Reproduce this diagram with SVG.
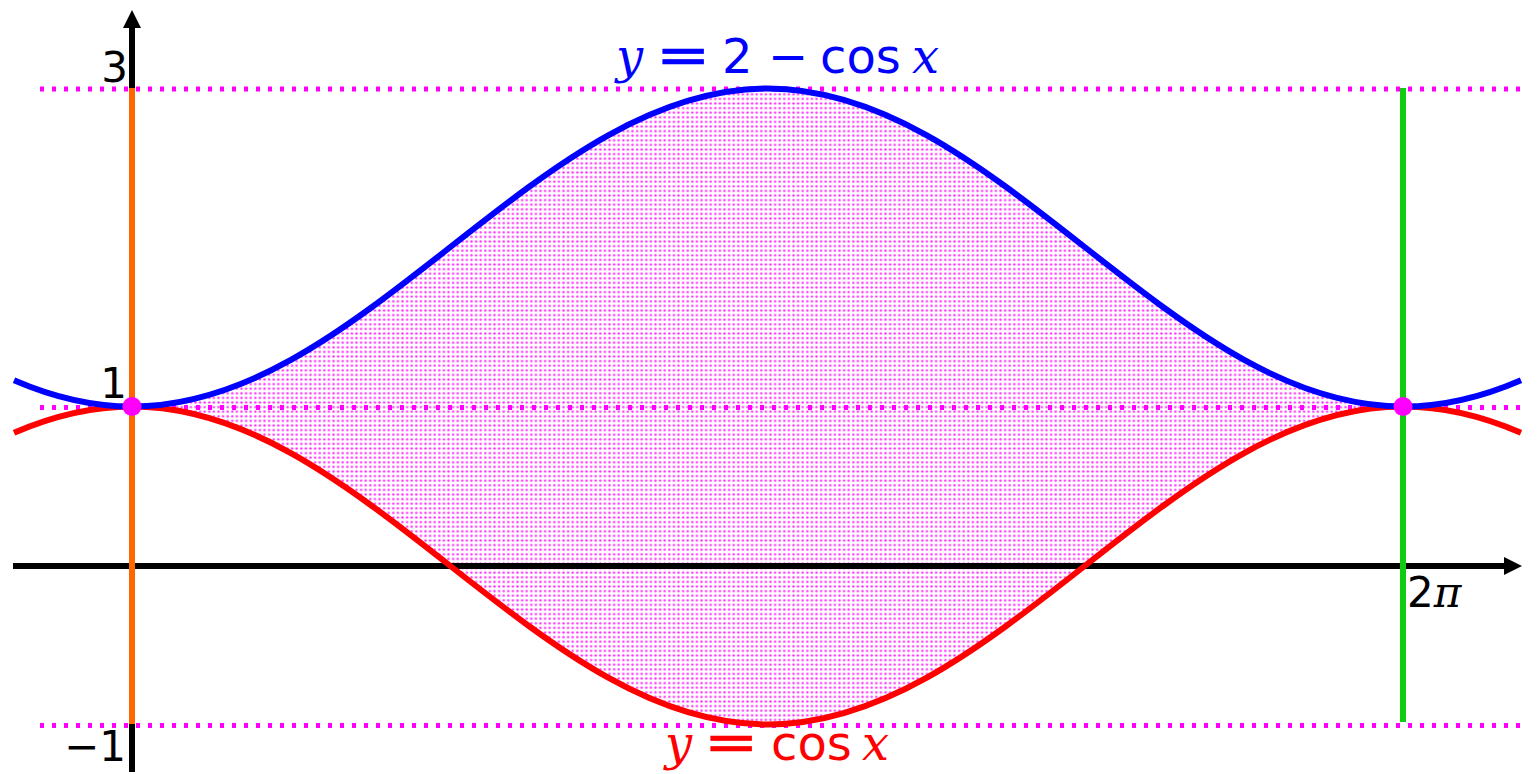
<svg xmlns="http://www.w3.org/2000/svg" width="1540" height="774" viewBox="0 0 1540 774">
<style>
.dot{stroke:#ff00ff;stroke-width:5;stroke-dasharray:4 8;fill:none}
.crv{fill:none;stroke-width:6;stroke-linejoin:round}
.ax{stroke:#000;stroke-width:6;fill:none}
.lbl{font-family:"DejaVu Sans","Liberation Sans",sans-serif;font-size:42px;fill:#000}
.it{font-family:"DejaVu Serif","Liberation Serif",serif;font-style:italic}
.eq{font-family:"DejaVu Sans","Liberation Sans",sans-serif;font-size:48px}
</style>
<defs>
<pattern id="dots" width="4.6" height="4.6" patternUnits="userSpaceOnUse">
<circle cx="2.3" cy="2.3" r="1.25" fill="#ff33ff"/>
</pattern>
<marker id="arr" viewBox="0 0 10 10" refX="0" refY="5" markerWidth="3" markerHeight="3" orient="auto" markerUnits="strokeWidth">
<path d="M0,0 L10,5 L0,10 Z" fill="#000"/>
</marker>
</defs>
<g id="region">
<path fill="url(#dots)" d="M132,406.5 C184.96,406.5 237.92,389.37 290.88,359.93 C343.84,330.49 396.8,289.13 449.76,247.5 C502.72,205.87 555.68,164.51 608.64,135.07 C661.6,105.63 714.56,88.5 767.52,88.5 C820.48,88.5 873.44,105.63 926.4,135.07 C979.36,164.51 1032.32,205.87 1085.28,247.5 C1138.24,289.13 1191.2,330.49 1244.16,359.93 C1297.12,389.37 1350.08,406.5 1403.04,406.5 C1350.08,406.5 1297.12,423.63 1244.16,453.07 C1191.2,482.51 1138.24,523.87 1085.28,565.5 C1032.32,607.13 979.36,648.49 926.4,677.93 C873.44,707.37 820.48,724.5 767.52,724.5 C714.56,724.5 661.6,707.37 608.64,677.93 C555.68,648.49 502.72,607.13 449.76,565.5 C396.8,523.87 343.84,482.51 290.88,453.07 C237.92,423.63 184.96,406.5 132,406.5 Z"/>
</g>
<g id="guides">
<line class="dot" x1="40" y1="89" x2="1520" y2="89"/>
<line class="dot" x1="40" y1="407.5" x2="1520" y2="407.5"/>
<line class="dot" x1="40" y1="725.5" x2="1520" y2="725.5"/>
</g>
<g id="axes">
<line class="ax" x1="13" y1="566" x2="1504" y2="566" marker-end="url(#arr)"/>
<line class="ax" x1="132" y1="772" x2="132" y2="28" marker-end="url(#arr)"/>
</g>
<g id="verticals">
<line x1="132" y1="88" x2="132" y2="724" stroke="#ff6600" stroke-width="6"/>
<line x1="1403" y1="88" x2="1403" y2="722" stroke="#11cc11" stroke-width="6"/>
</g>
<g id="curves">
<path class="crv" stroke="#ff0000" d="M14,432.8 C53.33,415.77 92.67,406.5 132,406.5 C184.96,406.5 237.92,423.63 290.88,453.07 C343.84,482.51 396.8,523.87 449.76,565.5 C502.72,607.13 555.68,648.49 608.64,677.93 C661.6,707.37 714.56,724.5 767.52,724.5 C820.48,724.5 873.44,707.37 926.4,677.93 C979.36,648.49 1032.32,607.13 1085.28,565.5 C1138.24,523.87 1191.2,482.51 1244.16,453.07 C1297.12,423.63 1350.08,406.5 1403.04,406.5 C1442.37,406.5 1481.71,415.77 1521,432.8"/>
<path class="crv" stroke="#0000ff" d="M14,380.2 C53.33,397.23 92.67,406.5 132,406.5 C184.96,406.5 237.92,389.37 290.88,359.93 C343.84,330.49 396.8,289.13 449.76,247.5 C502.72,205.87 555.68,164.51 608.64,135.07 C661.6,105.63 714.56,88.5 767.52,88.5 C820.48,88.5 873.44,105.63 926.4,135.07 C979.36,164.51 1032.32,205.87 1085.28,247.5 C1138.24,289.13 1191.2,330.49 1244.16,359.93 C1297.12,389.37 1350.08,406.5 1403.04,406.5 C1442.37,406.5 1481.71,397.23 1521,380.2"/>
</g>
<g id="points">
<circle cx="132" cy="406.5" r="9.5" fill="#ff00ff"/>
<circle cx="1403" cy="406.5" r="9.5" fill="#ff00ff"/>
</g>
<g id="labels">
<text class="lbl" x="128" y="82" text-anchor="end">3</text>
<text class="lbl" x="127" y="398" text-anchor="end">1</text>
<text class="lbl" x="126" y="761" text-anchor="end">−1</text>
<text class="lbl" x="1407" y="607">2<tspan class="it">π</tspan></text>
<g fill="#0000ff">
<text class="eq" y="73"><tspan class="it" x="616">y</tspan><tspan x="722">2</tspan><tspan x="768">−</tspan><tspan x="820">cos</tspan><tspan class="it" x="912">x</tspan></text>
<text class="eq" transform="translate(656,73) scale(1.35,1.1)" stroke="#0000ff" stroke-width="0.6">=</text>
</g>
<g fill="#ff0000">
<text class="eq" y="760"><tspan class="it" x="665">y</tspan><tspan x="771">cos</tspan><tspan class="it" x="862">x</tspan></text>
<text class="eq" transform="translate(704,760) scale(1.35,1.1)" stroke="#ff0000" stroke-width="0.6">=</text>
</g>
</g>
</svg>
